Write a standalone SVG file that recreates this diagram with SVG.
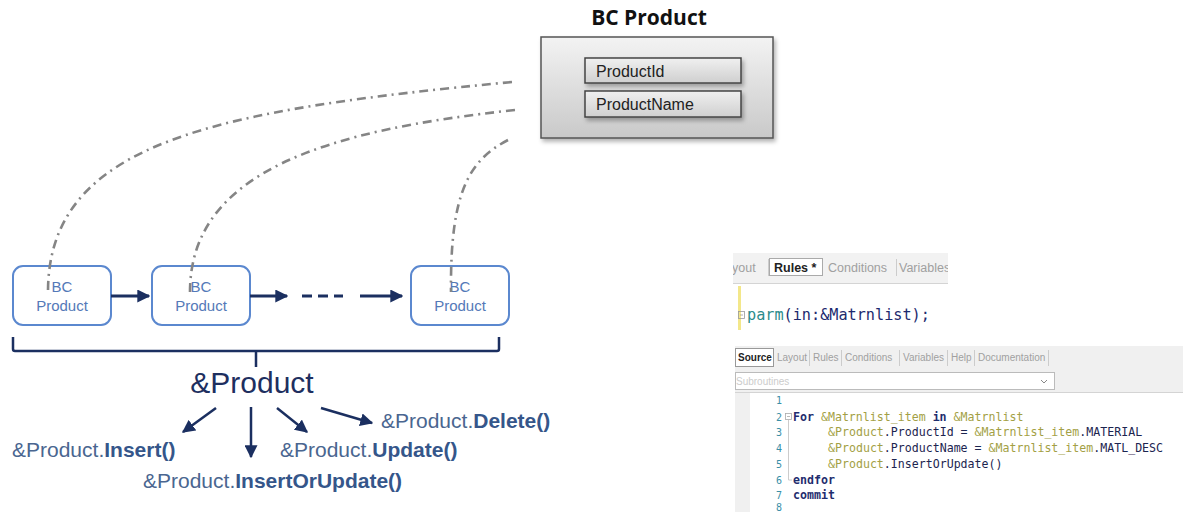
<svg xmlns="http://www.w3.org/2000/svg" width="1183" height="512" viewBox="0 0 1183 512">
<style>
.bc{fill:#fff;stroke:#5b88cf;stroke-width:2}
.bct{font-family:"Liberation Sans",Arial,sans-serif;font-size:15px;fill:#5479b8;text-anchor:middle}
.arr{stroke:#1b2f60;stroke-width:3;fill:none}
.dd{stroke:#858585;stroke-width:2.6;fill:none;stroke-dasharray:9 5 2 5}
.mt{font-family:"Liberation Sans",Arial,sans-serif;font-size:21px;fill:#4a6690}
.mb{font-weight:bold;fill:#35568a}
.tab{font-family:"Liberation Sans",Arial,sans-serif;font-size:10px;fill:#a0a0a0}
.tabt{font-family:"Liberation Sans",Arial,sans-serif;font-size:12.5px;fill:#a0a0a0}
.code{font-family:"DejaVu Sans Mono","Liberation Mono",monospace;font-size:11.6px;fill:#1c2550;white-space:pre}
.v{fill:#a39f45}
.k{font-weight:bold;fill:#1f2d6e}
.ln{font-family:"DejaVu Sans Mono","Liberation Mono",monospace;font-size:10px;fill:#3a8fa8;text-anchor:end}
.fld{font-family:"Liberation Sans",Arial,sans-serif;font-size:16px;fill:#222}
</style>
<defs>
<marker id="ah" viewBox="0 0 10 10" refX="9" refY="5" markerWidth="13" markerHeight="13" markerUnits="userSpaceOnUse" orient="auto"><path d="M0,0 L10,5 L0,10 z" fill="#1b2f60"/></marker>
<linearGradient id="g1" x1="0" y1="0" x2="0" y2="1"><stop offset="0" stop-color="#f3f3f3"/><stop offset="1" stop-color="#c9c9c9"/></linearGradient>
<linearGradient id="g2" x1="0" y1="0" x2="0" y2="1"><stop offset="0" stop-color="#f0f0f0"/><stop offset="1" stop-color="#cfcfcf"/></linearGradient>
<filter id="sh" x="-10%" y="-10%" width="130%" height="140%"><feDropShadow dx="2" dy="3" stdDeviation="2" flood-color="#000" flood-opacity="0.3"/></filter>
<clipPath id="tclip"><rect x="733" y="250" width="215" height="40"/></clipPath>
</defs>
<rect width="1183" height="512" fill="#fff"/>

<g id="bc-product-entity">
<text x="649" y="25" font-family="'Open Sans','Liberation Sans',sans-serif" font-weight="bold" font-size="21" fill="#111" text-anchor="middle">BC Product</text>
<rect x="541" y="37" width="232" height="101" fill="url(#g1)" stroke="#555" stroke-width="1.5" filter="url(#sh)"/>
<rect x="585" y="58" width="156" height="25" fill="url(#g2)" stroke="#444" stroke-width="1.5" filter="url(#sh)"/>
<text class="fld" x="596" y="77">ProductId</text>
<rect x="585" y="91" width="156" height="26" fill="url(#g2)" stroke="#444" stroke-width="1.5" filter="url(#sh)"/>
<text class="fld" x="596" y="110">ProductName</text>
</g>

<g id="node-bc1">
<rect class="bc" x="13" y="266" width="98" height="59" rx="10"/>
<text class="bct" x="62" y="292">BC</text>
<text class="bct" x="62" y="311">Product</text>
</g>
<g id="node-bc2">
<rect class="bc" x="152" y="266" width="98" height="59" rx="10"/>
<text class="bct" x="201" y="292">BC</text>
<text class="bct" x="201" y="311">Product</text>
</g>
<g id="node-bc3">
<rect class="bc" x="411" y="266" width="98" height="59" rx="10"/>
<text class="bct" x="460" y="292">BC</text>
<text class="bct" x="460" y="311">Product</text>
</g>

<g id="node-product-var">
<path d="M13,337 V349 Q13,351 15,351 H497 Q499,351 499,349 V337 M256,351 V367" stroke="#1b2f60" stroke-width="2.5" fill="none"/>
<text x="252" y="393" font-family="'Liberation Sans',Arial,sans-serif" font-size="30" fill="#1e2f5f" text-anchor="middle">&amp;Product</text>
</g>

<g id="node-methods">
<text class="mt" x="12" y="457">&amp;Product.<tspan class="mb">Insert()</tspan></text>
<text class="mt" x="143" y="488">&amp;Product.<tspan class="mb">InsertOrUpdate()</tspan></text>
<text class="mt" x="280" y="457">&amp;Product.<tspan class="mb">Update()</tspan></text>
<text class="mt" x="381" y="428">&amp;Product.<tspan class="mb">Delete()</tspan></text>
</g>

<g id="connectors">
<path class="dd" d="M512,82 C220,110 48,140 48,292"/>
<path class="dd" d="M515,110 C330,130 190,170 190,292"/>
<path class="dd" d="M508,140 C470,160 450,190 451,292"/>
<line class="arr" x1="111" y1="296" x2="149" y2="296" marker-end="url(#ah)"/>
<line class="arr" x1="250" y1="296" x2="287" y2="296" marker-end="url(#ah)"/>
<line class="arr" x1="302" y1="296" x2="343" y2="296" stroke-dasharray="10 6"/>
<line class="arr" x1="360" y1="296" x2="402" y2="296" marker-end="url(#ah)"/>
<line class="arr" style="stroke-width:2.5" x1="216" y1="408" x2="183" y2="432" marker-end="url(#ah)"/>
<line class="arr" style="stroke-width:2.5" x1="251" y1="407" x2="251" y2="457" marker-end="url(#ah)"/>
<line class="arr" style="stroke-width:2.5" x1="277" y1="408" x2="307" y2="432" marker-end="url(#ah)"/>
<line class="arr" style="stroke-width:2.5" x1="321" y1="408" x2="372" y2="423" marker-end="url(#ah)"/>
</g>

<g id="rules-panel">
<rect x="733" y="253" width="215" height="30" fill="#f2f2f2"/>
<line x1="733" y1="283.5" x2="948" y2="283.5" stroke="#d4d4d4"/>
<g clip-path="url(#tclip)">
<text class="tabt" x="732" y="272">yout</text>
<line x1="768.5" y1="259" x2="768.5" y2="276" stroke="#ccc"/>
<rect x="769.5" y="258.5" width="53" height="17" fill="#fff" stroke="#aaa"/>
<text class="tabt" x="774" y="272" font-weight="bold" style="fill:#222">Rules *</text>
<text class="tabt" x="828" y="272">Conditions</text>
<line x1="896.5" y1="259" x2="896.5" y2="276" stroke="#ccc"/>
<text class="tabt" x="899" y="272">Variables</text>
</g>
<rect x="738" y="286" width="3" height="44" fill="#f3e78a"/>
<rect x="738.5" y="311.5" width="6" height="7" fill="none" stroke="#999" stroke-width="0.8"/>
<line x1="740" y1="315" x2="743" y2="315" stroke="#999" stroke-width="0.8"/>
<text x="747" y="320" font-family="'DejaVu Sans Mono','Liberation Mono',monospace" font-size="15.2" fill="#1d2a6e"><tspan fill="#2b8b8b">parm</tspan>(in:&amp;Matrnlist);</text>
</g>

<g id="source-panel">
<rect x="735" y="346" width="448" height="46" fill="#f0f0f0"/>
<line x1="735" y1="392.5" x2="1183" y2="392.5" stroke="#d4d4d4"/>
<rect x="735.5" y="348.5" width="38" height="18" fill="#fff" stroke="#999"/>
<text class="tab" x="738" y="361" font-weight="bold" style="fill:#222">Source</text>
<text class="tab" x="777" y="361">Layout</text>
<line x1="809.5" y1="350" x2="809.5" y2="366" stroke="#ccc"/>
<text class="tab" x="813" y="361">Rules</text>
<line x1="841.5" y1="350" x2="841.5" y2="366" stroke="#ccc"/>
<text class="tab" x="845" y="361">Conditions</text>
<line x1="899.5" y1="350" x2="899.5" y2="366" stroke="#ccc"/>
<text class="tab" x="903" y="361">Variables</text>
<line x1="947.5" y1="350" x2="947.5" y2="366" stroke="#ccc"/>
<text class="tab" x="951" y="361">Help</text>
<line x1="974.5" y1="350" x2="974.5" y2="366" stroke="#ccc"/>
<text class="tab" x="978" y="361">Documentation</text>
<line x1="1048.5" y1="350" x2="1048.5" y2="366" stroke="#ccc"/>
<rect x="735.5" y="372.5" width="319" height="17" fill="#fff" stroke="#bbb"/>
<text class="tab" x="736" y="385" style="fill:#ccc">Subroutines</text>
<path d="M1041,380 L1044,383 L1047,380" fill="none" stroke="#888" stroke-width="1"/>
<rect x="735" y="393" width="15" height="119" fill="#f0f0f0"/>
<text class="ln" x="782" y="404">1</text>
<text class="ln" x="782" y="421">2</text>
<text class="ln" x="782" y="436">3</text>
<text class="ln" x="782" y="452">4</text>
<text class="ln" x="782" y="468">5</text>
<text class="ln" x="782" y="484">6</text>
<text class="ln" x="782" y="499">7</text>
<text class="ln" x="782" y="511">8</text>
<rect x="785.5" y="413.5" width="6" height="6" fill="none" stroke="#aaa" stroke-width="0.8"/>
<line x1="787" y1="416.5" x2="790" y2="416.5" stroke="#aaa" stroke-width="0.8"/>
<path d="M788.5,420 V480 H792" fill="none" stroke="#ccc" stroke-width="1"/>
<text class="code" x="793" y="421"><tspan class="k">For</tspan> <tspan class="v">&amp;Matrnlist_item</tspan> <tspan class="k">in</tspan> <tspan class="v">&amp;Matrnlist</tspan></text>
<text class="code" x="828" y="436"><tspan class="v">&amp;Product</tspan>.ProductId = <tspan class="v">&amp;Matrnlist_item</tspan>.MATERIAL</text>
<text class="code" x="828" y="452"><tspan class="v">&amp;Product</tspan>.ProductName = <tspan class="v">&amp;Matrnlist_item</tspan>.MATL_DESC</text>
<text class="code" x="828" y="468"><tspan class="v">&amp;Product</tspan>.InsertOrUpdate()</text>
<text class="code" x="793" y="484"><tspan class="k">endfor</tspan></text>
<text class="code" x="793" y="499"><tspan class="k">commit</tspan></text>
</g>
</svg>
